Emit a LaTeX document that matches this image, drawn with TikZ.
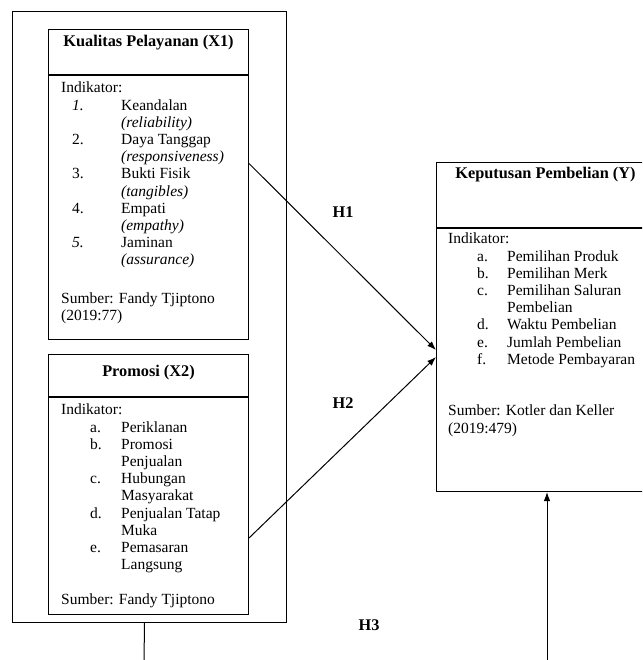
\documentclass[tikz,border=0pt]{standalone}
\usepackage{fontspec}
\setmainfont{Liberation Serif}
\usetikzlibrary{positioning,calc}
\usetikzlibrary{arrows,arrows.meta}

\tikzset{
  frame/.style={draw, line width=1pt, inner sep=0pt, anchor=north west},
  title/.style={font=\fontsize{16.3}{17.2}\selectfont\bfseries, inner sep=0pt},
  body/.style={font=\fontsize{15.5}{17.2}\selectfont, align=left, inner sep=0pt, anchor=north west},
  hyp/.style={font=\fontsize{16.3}{17.2}\selectfont\bfseries, inner sep=0pt},
  link/.style={line width=1pt},
  tip/.style={-{Latex[length=9pt,width=6.5pt]}}
}
\newcommand{\itm}[3]{\hspace*{#1pt}\makebox[#2pt][l]{#3}}

\begin{document}
\begin{tikzpicture}[x=1pt, y=-1pt]
\clip (0,0) rectangle (642,660);
% outer frame round X1 and X2
\node[frame, minimum width=274, minimum height=611] (outer) at (12,11) {};

% X1
\node[frame, minimum width=200, minimum height=45] (x1head) at (48,29) {};
\node[frame, minimum width=200, minimum height=264] (x1body) at (x1head.south west) {};
\node[title] (x1title) at ([yshift=-14]x1head.north) {Kualitas Pelayanan (X1)};
\node[body] (x1list) at ([xshift=13, yshift=-7]x1body.north west) {Indikator:\\
\itm{11}{49}{\textit{1.}}Keandalan\\
\itm{60}{0}{}\textit{(reliability)}\\
\itm{11}{49}{2.}Daya Tanggap\\
\itm{60}{0}{}\textit{(responsiveness)}\\
\itm{11}{49}{3.}Bukti Fisik\\
\itm{60}{0}{}\textit{(tangibles)}\\
\itm{11}{49}{4.}Empati\\
\itm{60}{0}{}\textit{(empathy)}\\
\itm{11}{49}{\textit{5.}}Jaminan\\
\itm{60}{0}{}\textit{(assurance)}\\[21pt]
Sumber: Fandy Tjiptono\\
(2019:77)};

% X2
\node[frame, minimum width=200, minimum height=42] (x2head) at (48,354) {};
\node[frame, minimum width=200, minimum height=217] (x2body) at (x2head.south west) {};
\node[title] (x2title) at ([yshift=-19]x2head.north) {Promosi (X2)};
\node[body] (x2list) at ([xshift=13, yshift=-7]x2body.north west) {Indikator:\\
\itm{29}{31}{a.}Periklanan\\
\itm{29}{31}{b.}Promosi\\
\itm{60}{0}{}Penjualan\\
\itm{29}{31}{c.}Hubungan\\
\itm{60}{0}{}Masyarakat\\
\itm{29}{31}{d.}Penjualan Tatap\\
\itm{60}{0}{}Muka\\
\itm{29}{31}{e.}Pemasaran\\
\itm{60}{0}{}Langsung\\[17.2pt]
Sumber: Fandy Tjiptono};

% Y
\node[frame, minimum width=218, minimum height=65] (yhead) at (436,162) {};
\node[frame, minimum width=218, minimum height=263] (ybody) at (yhead.south west) {};
\node[title] (ytitle) at ([yshift=-13]yhead.north) {Keputusan Pembelian (Y)};
\node[body] (ylist) at ([xshift=12, yshift=-5]ybody.north west) {Indikator:\\
\itm{29}{30}{a.}Pemilihan Produk\\
\itm{29}{30}{b.}Pemilihan Merk\\
\itm{29}{30}{c.}Pemilihan Saluran\\
\itm{59}{0}{}Pembelian\\
\itm{29}{30}{d.}Waktu Pembelian\\
\itm{29}{30}{e.}Jumlah Pembelian\\
\itm{29}{30}{f.}Metode Pembayaran\\[34.4pt]
Sumber: Kotler dan Keller\\
(2019:479)};

% hypotheses
\draw[link, tip] ([yshift=44]x1body.east) -- ([yshift=10]ybody.west);
\draw[link, tip] ([yshift=-32]x2body.east) -- ([yshift=3]ybody.west);
\coordinate (h3start) at (144,662);
\coordinate (h3end) at (547,662);
\draw[link] ([xshift=-5]outer.south) -- (h3start);
\draw[link, tip] (h3end) -- (h3end |- ybody.south);
\node[hyp] (h1) at (343,212) {H1};
\node[hyp] (h2) at (343,403) {H2};
\node[hyp] (h3) at (369,625) {H3};
\end{tikzpicture}
\end{document}
